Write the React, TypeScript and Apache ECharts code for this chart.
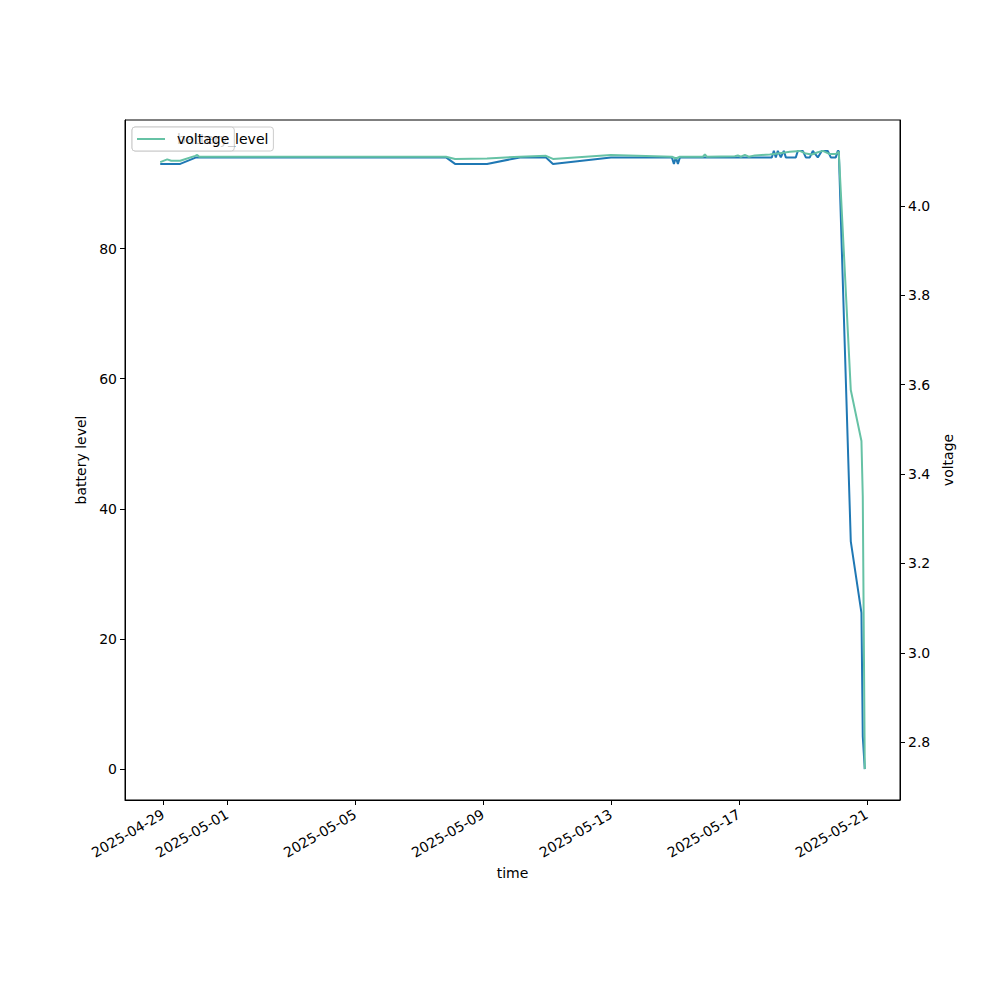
import React, { useEffect, useRef } from "react";
import * as echarts from "echarts";

const batteryTimes = [
  "2025-04-28 21:45", "2025-04-29 12:45", "2025-04-30 00:45", "2025-05-07 20:15",
  "2025-05-08 03:00", "2025-05-09 03:00", "2025-05-10 03:45", "2025-05-10 23:15",
  "2025-05-11 04:30", "2025-05-13 00:00", "2025-05-14 21:45", "2025-05-14 23:15",
  "2025-05-15 00:45", "2025-05-15 02:15", "2025-05-15 03:45", "2025-05-18 00:45",
  "2025-05-18 02:15", "2025-05-18 03:45", "2025-05-18 05:15", "2025-05-18 07:30",
  "2025-05-18 09:45", "2025-05-18 11:15", "2025-05-18 18:45", "2025-05-18 20:15",
  "2025-05-19 00:00", "2025-05-19 02:15", "2025-05-19 05:15", "2025-05-19 07:30",
  "2025-05-19 11:15", "2025-05-19 14:15", "2025-05-19 18:45", "2025-05-19 21:00",
  "2025-05-20 00:45", "2025-05-20 02:15", "2025-05-20 03:00", "2025-05-20 12:00",
  "2025-05-20 20:00", "2025-05-20 21:00", "2025-05-20 22:30",
];
const batteryValues = [
  93, 93, 94, 94,
  93, 93, 94, 94,
  93, 94, 94, 93,
  94, 93, 94, 94,
  95, 94, 95, 94,
  95, 94, 94, 95,
  95, 94, 94, 95,
  94, 95, 95, 94,
  94, 95, 95, 35,
  24, 5, 0,
];

const voltageTimes = [
  "2025-04-28 21:45", "2025-04-29 03:00", "2025-04-29 06:00", "2025-04-29 12:45",
  "2025-04-30 00:00", "2025-04-30 01:30", "2025-04-30 03:00", "2025-05-07 20:15",
  "2025-05-08 03:00", "2025-05-09 03:00", "2025-05-10 03:45", "2025-05-10 23:15",
  "2025-05-11 04:30", "2025-05-13 00:00", "2025-05-14 21:45", "2025-05-15 00:45",
  "2025-05-15 03:45", "2025-05-15 21:00", "2025-05-15 22:30", "2025-05-16 00:00",
  "2025-05-16 21:00", "2025-05-16 23:15", "2025-05-17 01:30", "2025-05-17 04:30",
  "2025-05-17 07:30", "2025-05-17 12:00", "2025-05-17 17:15", "2025-05-17 23:15",
  "2025-05-18 06:45", "2025-05-18 14:15", "2025-05-18 21:45", "2025-05-19 02:15",
  "2025-05-19 06:45", "2025-05-19 11:15", "2025-05-19 15:00", "2025-05-19 20:15",
  "2025-05-20 00:45", "2025-05-20 03:00", "2025-05-20 12:00", "2025-05-20 20:00",
  "2025-05-20 21:00", "2025-05-20 22:30",
];
const voltageValues = [
  4.098, 4.104, 4.101, 4.101,
  4.112, 4.114, 4.11, 4.11,
  4.105, 4.106, 4.11, 4.112,
  4.105, 4.114, 4.11, 4.106,
  4.11, 4.11, 4.115, 4.11,
  4.111, 4.113, 4.11, 4.114,
  4.11, 4.113, 4.114, 4.115,
  4.118, 4.121, 4.123, 4.117,
  4.115, 4.12, 4.123, 4.116,
  4.116, 4.121, 3.588, 3.474,
  3.35, 2.74,
];

const xTickDates = ["2025-04-29", "2025-05-01", "2025-05-05", "2025-05-09", "2025-05-13", "2025-05-17", "2025-05-21"];
const batteryTicks = [0, 20, 40, 60, 80];
const voltageTicks = [2.8, 3.0, 3.2, 3.4, 3.6, 3.8, 4.0];

const toMs = (s: string) => Date.parse(s.replace(" ", "T") + ":00Z");
const dayMs = (s: string) => Date.parse(s + "T00:00:00Z");

const padRange = (vals: number[]) => {
  const lo = Math.min(...vals);
  const hi = Math.max(...vals);
  const m = (hi - lo) * 0.05;
  return [lo - m, hi + m];
};

const FONT = "DejaVu Sans";

export default function App() {
  const ref = useRef<HTMLDivElement>(null);
  useEffect(() => {
    if (!ref.current) return;
    const chart = echarts.init(ref.current, undefined, { renderer: "svg" });
    const bData = batteryTimes.map((t, i) => [toMs(t), batteryValues[i]]);
    const vData = voltageTimes.map((t, i) => [toMs(t), voltageValues[i]]);
    const allT = [...batteryTimes, ...voltageTimes].map(toMs);
    const [xMin, xMax] = padRange(allT);
    const [bMin, bMax] = padRange(batteryValues);
    const [vMin, vMax] = padRange(voltageValues);
    const xTicks = xTickDates.map(dayMs);
    const labelStyle = { color: "#000", fontSize: 14, fontFamily: FONT };
    const tick = { show: true, inside: false, length: 5, lineStyle: { color: "#000", width: 1 } };
    const legendBase = {
      left: 132, top: 127,
      orient: "vertical",
      icon: "rect", itemWidth: 28, itemHeight: 2,
      padding: [5, 5, 5, 5],
      backgroundColor: "rgba(255,255,255,0.8)",
      borderColor: "#cccccc", borderWidth: 1, borderRadius: 3,
      textStyle: { color: "#000", fontSize: 14, fontFamily: FONT, padding: [0, 0, 0, 7] },
    };
    chart.setOption({
      animation: false,
      backgroundColor: "#fff",
      textStyle: { fontFamily: FONT },
      grid: {
        left: 125, right: 100, top: 120, bottom: 200,
        show: true, borderColor: "#000", borderWidth: 1, backgroundColor: "transparent",
      },
      legend: [
        { ...legendBase, data: ["battery_level"], z: 4 },
        { ...legendBase, data: ["voltage"], z: 5 },
      ],
      xAxis: {
        type: "value",
        min: xMin, max: xMax,
        name: "time", nameLocation: "middle", nameGap: 66,
        nameTextStyle: labelStyle,
        axisLine: { show: true, onZero: false, lineStyle: { color: "#000", width: 1 } },
        axisTick: { ...tick, customValues: xTicks },
        axisLabel: {
          ...labelStyle, rotate: 30, margin: 13,
          customValues: xTicks,
          formatter: (v: number) => new Date(v).toISOString().slice(0, 10),
        },
        splitLine: { show: false },
      },
      yAxis: [
        {
          type: "value", position: "left",
          min: bMin, max: bMax,
          name: "battery level", nameLocation: "middle", nameGap: 30,
          nameTextStyle: labelStyle,
          axisLine: { show: true, onZero: false, lineStyle: { color: "#000", width: 1 } },
          axisTick: { ...tick, customValues: batteryTicks },
          axisLabel: { ...labelStyle, margin: 8, customValues: batteryTicks, formatter: (v: number) => String(v) },
          splitLine: { show: false },
        },
        {
          type: "value", position: "right",
          min: vMin, max: vMax,
          name: "voltage", nameLocation: "middle", nameGap: 34,
          nameTextStyle: labelStyle,
          axisLine: { show: true, onZero: false, lineStyle: { color: "#000", width: 1 } },
          axisTick: { ...tick, customValues: voltageTicks },
          axisLabel: { ...labelStyle, margin: 8, customValues: voltageTicks, formatter: (v: number) => v.toFixed(1) },
          splitLine: { show: false },
        },
      ],
      series: [
        {
          name: "battery_level", type: "line", yAxisIndex: 0,
          data: bData, showSymbol: false, symbol: "none",
          lineStyle: { color: "#1f78b4", width: 2 },
          itemStyle: { color: "#1f78b4" },
        },
        {
          name: "voltage", type: "line", yAxisIndex: 1,
          data: vData, showSymbol: false, symbol: "none",
          lineStyle: { color: "#66c2a5", width: 2 },
          itemStyle: { color: "#66c2a5" },
        },
      ],
    });
    return () => chart.dispose();
  }, []);
  return (
    <div
      ref={ref}
      style={{ position: "absolute", left: 0, top: 0, width: 1000, height: 1000, background: "#fff" }}
    />
  );
}
